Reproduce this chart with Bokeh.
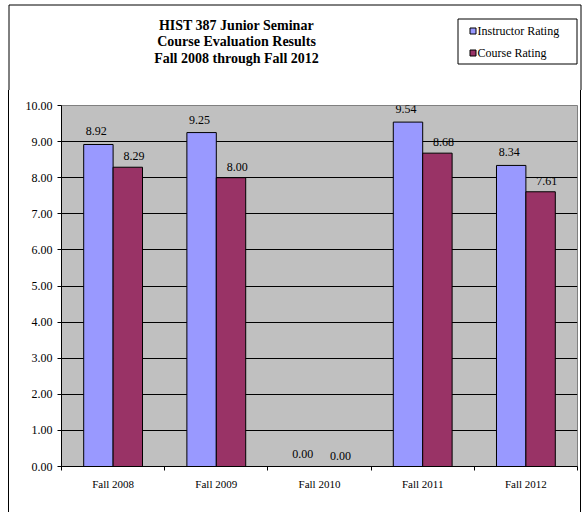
from bokeh.plotting import figure
from bokeh.layouts import column, row
from bokeh.models import (ColumnDataSource, Range1d, LinearAxis, FixedTicker, LabelSet, Label,
                          CustomJSTickFormatter, Div)
from bokeh.core.properties import value
from bokeh.transform import dodge
from bokeh.embed import file_html
from bokeh.resources import INLINE

categories = ["Fall 2008", "Fall 2009", "Fall 2010", "Fall 2011", "Fall 2012"]
instructor = [8.92, 9.25, 0.00, 9.54, 8.34]
course = [8.29, 8.00, 0.00, 8.68, 7.61]
series_names = ["Instructor Rating", "Course Rating"]
series_colors = ["#9999FF", "#993366"]
title_lines = ["HIST 387 Junior Seminar", "Course Evaluation Results", "Fall 2008 through Fall 2012"]
y_ticks = [0, 1, 2, 3, 4, 5, 6, 7, 8, 9, 10]

FONT = "Liberation Serif"
W, H = 582, 512
HEAD_H = 90          # header strip height
LS_W, RS_W = 9, 3    # side strips holding the outer chart border (border-box)
BODY_H = H - HEAD_H
BODY_W = W - 1 - LS_W - RS_W
FL, FR, FT, FB = 61, 577, 105, 466  # plot-area edges in page px


def bare(width, height, xr, yr):
    f = figure(width=width, height=height, x_range=xr, y_range=yr,
               x_axis_location=None, y_axis_location=None,
               output_backend="svg", toolbar_location=None,
               min_border_left=0, min_border_right=0, min_border_top=0, min_border_bottom=0)
    f.grid.visible = False
    f.outline_line_color = None
    f.background_fill_color = "white"
    f.border_fill_color = "white"
    return f


# ---------------- header: title, legend, top of outer border ----------------
h = bare(W, HEAD_H, Range1d(0, W), Range1d(HEAD_H, 0))
h.line(x=[8.5, 8.5, 580.5, 580.5], y=[HEAD_H, 4.5, 4.5, HEAD_H], line_color="black", line_width=1)
for i, t in enumerate(title_lines):
    h.add_layout(Label(x=236, y=24.5 + 16.5 * i, text=t, text_font=FONT, text_font_size="14px",
                       text_font_style="bold", text_align="center", text_baseline="alphabetic",
                       text_color="black"))
h.quad(left=[457.5], right=[576.5], top=[18.5], bottom=[63.5],
       fill_color="white", line_color="black", line_width=1)
leg_y = [30.5, 52.5]
h.rect(x=[472.5, 472.5], y=leg_y, width=6, height=6, fill_color=series_colors,
       line_color="black", line_width=1)
h.text(x=[477, 477], y=leg_y, text=series_names, text_font=value(FONT), text_font_size="12px",
       text_baseline="middle", text_align="left", text_color="black")

# ---------------- side strips: outer border sides (CSS borders) ----------------
ls = Div(text="", width=LS_W, height=BODY_H, margin=0,
         styles={"border-right": "1px solid black", "box-sizing": "border-box",
                 "padding": "0", "background": "white"})
rs = Div(text="", width=RS_W, height=BODY_H, margin=0,
         styles={"border-right": "1px solid black", "box-sizing": "border-box",
                 "padding": "0", "background": "white"})

# ---------------- main chart ----------------
n = len(categories)
centers = [i + 0.5 for i in range(n)]
edges = list(range(n + 1))

src = ColumnDataSource(dict(
    x=centers,
    ins=instructor,
    crs=course,
    ins_lbl=["%.2f" % v for v in instructor],
    crs_lbl=["%.2f" % v for v in course],
))

p = figure(width=BODY_W, height=BODY_H, x_range=Range1d(0, n), y_range=Range1d(0, 10),
           x_axis_location=None, y_axis_location=None,
           output_backend="svg", toolbar_location=None,
           min_border_left=FL - LS_W, min_border_right=(LS_W + BODY_W) - FR,
           min_border_top=FT - HEAD_H, min_border_bottom=H - FB, margin=0)
p.background_fill_color = "#C0C0C0"
p.border_fill_color = "white"
p.outline_line_color = "#808080"
p.outline_line_width = 1

yax = LinearAxis(ticker=FixedTicker(ticks=y_ticks))
yax.formatter = CustomJSTickFormatter(code="return tick.toFixed(2);")
yax.major_tick_out = 4
yax.major_tick_in = 0
yax.minor_tick_line_color = None
yax.axis_line_color = "black"
yax.major_tick_line_color = "black"
yax.major_label_standoff = 5
yax.major_label_text_font = FONT
yax.major_label_text_font_size = "12px"
yax.major_label_text_color = "black"
p.add_layout(yax, "left")

xax = LinearAxis(ticker=FixedTicker(ticks=centers, minor_ticks=edges))
xax.major_label_overrides = {c: lab for c, lab in zip(centers, categories)}
xax.major_tick_line_color = None
xax.major_tick_out = 0
xax.major_tick_in = 0
xax.minor_tick_out = 4
xax.minor_tick_in = 0
xax.minor_tick_line_color = "black"
xax.axis_line_color = "black"
xax.major_label_standoff = 7
xax.major_label_text_font = FONT
xax.major_label_text_font_size = "11px"
xax.major_label_text_color = "black"
p.add_layout(xax, "below")

p.xgrid.visible = False
p.ygrid.ticker = FixedTicker(ticks=y_ticks)
p.ygrid.grid_line_color = "black"
p.ygrid.grid_line_width = 1

bw = 0.285
p.vbar(x=dodge("x", -bw / 2), top="ins", width=bw, source=src,
       fill_color=series_colors[0], line_color="black", line_width=1)
p.vbar(x=dodge("x", bw / 2), top="crs", width=bw, source=src,
       fill_color=series_colors[1], line_color="black", line_width=1)

lab_kw = dict(text_font=FONT, text_font_size="12px", text_color="black",
              text_align="center", text_baseline="middle", source=src)
p.add_layout(LabelSet(x=dodge("x", -bw / 2 - 0.02), y="ins", text="ins_lbl",
                      y_offset=13, **lab_kw))
p.add_layout(LabelSet(x=dodge("x", bw / 2 + 0.06), y="crs", text="crs_lbl",
                      y_offset=11, **lab_kw))

page = column(h, row(ls, p, rs, spacing=0, margin=0), spacing=0, margin=0)
open("out.html", "w").write(file_html(page, INLINE))
